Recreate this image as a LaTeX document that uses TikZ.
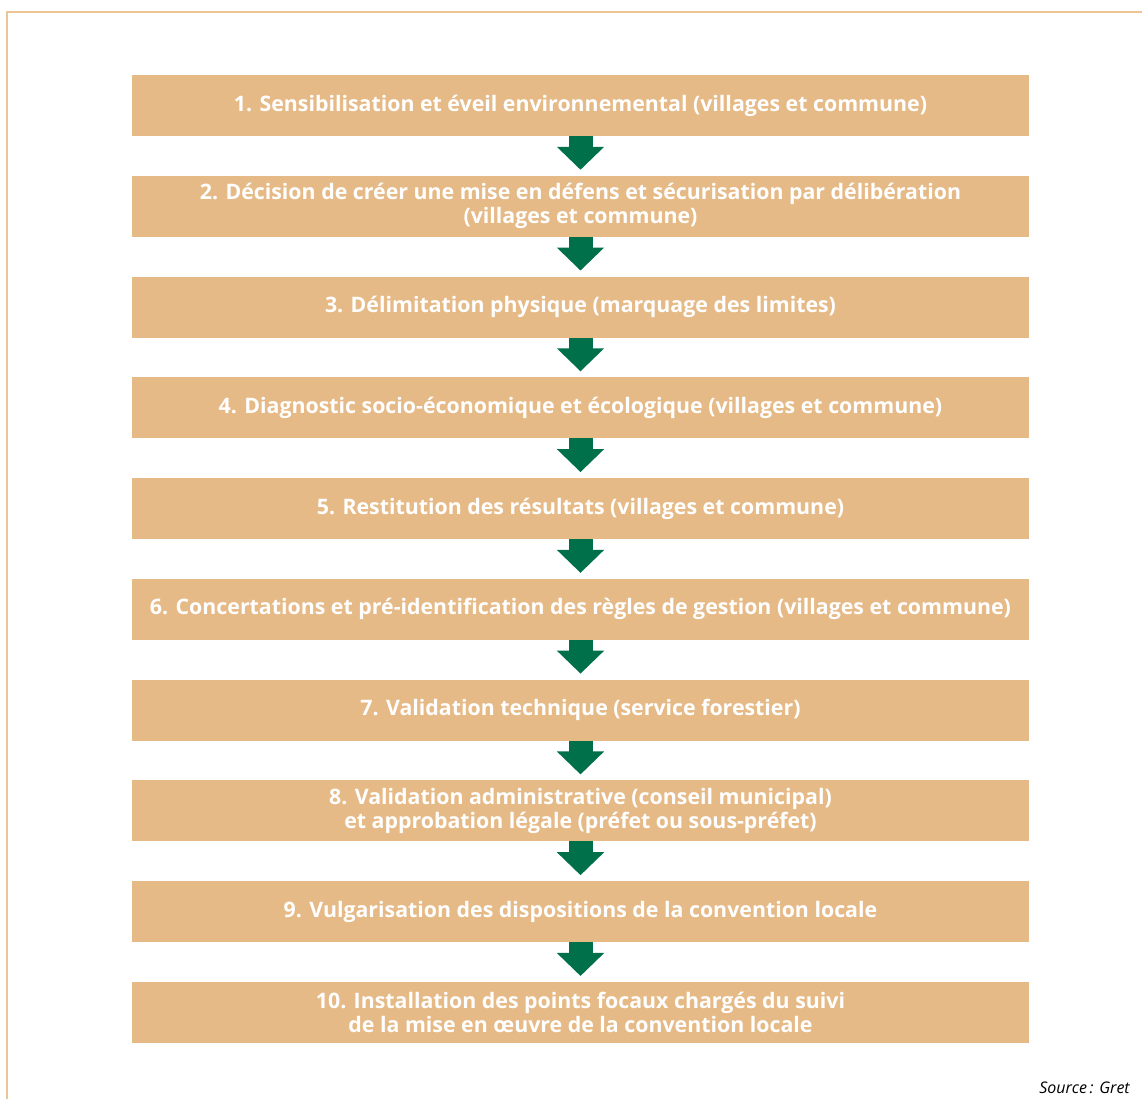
\documentclass[tikz,border=0pt]{standalone}
\usepackage{fontspec}
\setmainfont{Open Sans}
\usetikzlibrary{arrows.meta,positioning}
\definecolor{beige}{HTML}{E6BA87}
\definecolor{frameline}{HTML}{EBC595}
\definecolor{vert}{HTML}{00704A}
\tikzset{
    %Define style for boxes
    etape/.style={
           rectangle,
           fill=beige,
           minimum width=672.75pt,
           minimum height=45.75pt,
           inner sep=0pt,
           outer sep=0pt,
           align=center,
           text=white,
           font=\bfseries\fontsize{16}{18}\selectfont},
    % Define arrow style
    fleche/.style={
           draw=vert,
           line width=18pt,
           -{Triangle[width=34.5pt,length=17.25pt]},
           shorten >=4.5pt},
    source/.style={
           anchor=base east,
           inner sep=0pt,
           font=\itshape\fontsize{12}{14}\selectfont}
}
\begin{document}
\begin{tikzpicture}[x=0.75pt,y=-0.75pt,node distance=29.83pt]
\useasboundingbox (0,0) rectangle (1142,1099);
 %frame
\draw[frameline,line width=1.6pt] (1142,12) -- (7,12) -- (7,1099);
 %steps
\node[etape](e1) at (580.5,105.5){1. Sensibilisation et éveil environnemental (villages et commune)};
\node[etape, below=of e1](e2){2. Décision de créer une mise en défens et sécurisation par délibération\\(villages et commune)};
\node[etape, below=of e2](e3){3. Délimitation physique (marquage des limites)};
\node[etape, below=of e3](e4){4. Diagnostic socio-économique et écologique (villages et commune)};
\node[etape, below=of e4](e5){5. Restitution des résultats (villages et commune)};
\node[etape, below=of e5](e6){6. Concertations et pré-identification des règles de gestion (villages et commune)};
\node[etape, below=of e6](e7){7. Validation technique (service forestier)};
\node[etape, below=of e7](e8){8. Validation administrative (conseil municipal)\\et approbation légale (préfet ou sous-préfet)};
\node[etape, below=of e8](e9){9. Vulgarisation des dispositions de la convention locale};
\node[etape, below=of e9](e10){10. Installation des points focaux chargés du suivi\\de la mise en œuvre de la convention locale};
\node[source](src) at (1130,1093){Source\,: Gret};
 %arrows
\foreach \i [evaluate=\i as \j using int(\i+1)] in {1,...,9}
    \draw[fleche] (e\i.south) -- (e\j.north);
\end{tikzpicture}
\end{document}
